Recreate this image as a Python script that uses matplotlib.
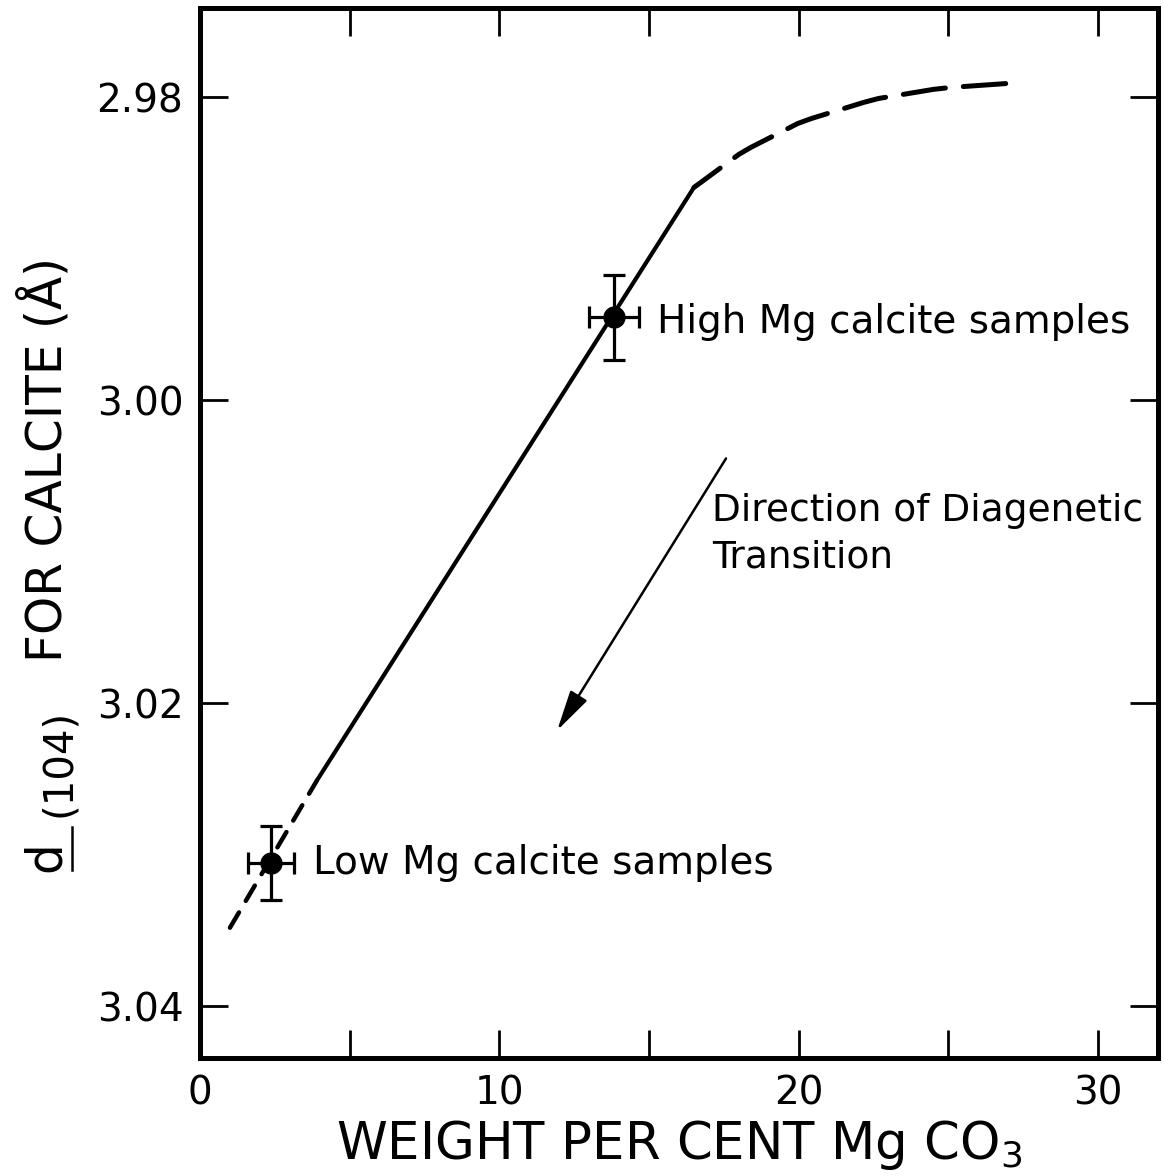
import numpy as np
import matplotlib
matplotlib.use("Agg")
from matplotlib import pyplot as plt
from matplotlib.lines import Line2D

plt.rcParams['font.family'] = ['DejaVu Sans']
plt.rcParams['mathtext.fontset'] = 'custom'
plt.rcParams['mathtext.rm'] = 'DejaVu Sans'

W, H = 1164, 1176

# d(104) spacing vs MgCO3 content
line_lo_x = [1.0, 3.9]
line_lo_y = [3.0348, 3.0251]
line_mid_x = [3.9, 16.5]
line_mid_y = [3.0251, 2.98594]
line_hi_x = [16.5, 16.73, 18.0, 18.4, 19.97, 20.43, 22.17, 22.67, 24.5, 25.1, 26.97]
line_hi_y = [2.98594, 2.98561, 2.98376, 2.9833, 2.98172, 2.98139, 2.98033, 2.98007,
             2.97947, 2.97934, 2.97908]

sample_names = ['Low Mg calcite samples', 'High Mg calcite samples']
sample_x = [2.37, 13.83]
sample_y = [3.03056, 2.99452]
sample_xerr = [0.78, 0.83]
sample_yerr = [0.00244, 0.0028]

arrow_from = (17.57, 3.00383)
arrow_to = (11.93, 3.02178)

x_ticks = [0, 5, 10, 15, 20, 25, 30]
x_ticklabels = ['0', '', '10', '', '20', '', '30']
y_ticks = [2.98, 3.00, 3.02, 3.04]
y_ticklabels = ['2.98', '3.00', '3.02', '3.04']


def fx(px):
    return px / W


def fy(py):
    return (H - py) / H


fig = plt.figure(figsize=(W / 100, H / 100), dpi=100)
ax = fig.add_axes([fx(200), fy(1058), fx(1158) - fx(200), fy(8) - fy(1058)])

ax.plot(line_lo_x, line_lo_y, color='black', lw=3.2, ls=(0, (4.0, 3.0)), dash_capstyle='round')
ax.plot(line_mid_x, line_mid_y, color='black', lw=3.0, solid_capstyle='round')
ax.plot(line_hi_x, line_hi_y, color='black', lw=3.6, ls=(2.0, (8.5, 3.6)), dash_capstyle='round',
        solid_joinstyle='round')

ax.errorbar(sample_x, sample_y, xerr=sample_xerr, yerr=sample_yerr, fmt='o', color='black',
            ms=15, elinewidth=2.3, capsize=8, capthick=2.3, zorder=5)

ax.text(sample_x[0] + 1.4, sample_y[0], sample_names[0], fontsize=28, va='center', ha='left')
ax.text(sample_x[1] + 1.45, sample_y[1] + 0.0003, sample_names[1], fontsize=28, va='center', ha='left')
ax.text(17.1, 3.00733, 'Direction of Diagenetic', fontsize=27, va='center', ha='left')
ax.text(17.1, 3.01036, 'Transition', fontsize=27, va='center', ha='left')

ax.annotate('', xy=arrow_to, xytext=arrow_from,
            arrowprops=dict(arrowstyle='-|>,head_length=2.5,head_width=0.6', color='black', lw=1.8,
                            shrinkA=0, shrinkB=0))

ax.set_xlim(0, 32)
ax.set_ylim(3.0434, 2.9741)
ax.set_xticks(x_ticks)
ax.set_xticklabels(x_ticklabels)
ax.set_yticks(y_ticks)
ax.set_yticklabels(y_ticklabels)
ax.tick_params(direction='in', length=20, width=2.0, top=True, right=True, labelsize=28, pad=12)

for s in ax.spines.values():
    s.set_linewidth(3.6)

ax.set_xlabel('WEIGHT PER CENT Mg CO$_3$', fontsize=37, labelpad=4)

# y label assembled from pieces: underlined d, smaller (104), rest of the title
fig.text(fx(60), fy(872), 'd', fontsize=35, rotation=90, rotation_mode='anchor',
         ha='left', va='baseline')
fig.add_artist(Line2D([fx(72), fx(72)], [fy(870), fy(827)], color='black', lw=1.8,
                      transform=fig.transFigure))
fig.text(fx(70), fy(817), '(104)', fontsize=29, rotation=90, rotation_mode='anchor',
         ha='left', va='baseline')
fig.text(fx(62), fy(662), 'FOR CALCITE (Å)', fontsize=35, rotation=90, rotation_mode='anchor',
         ha='left', va='baseline')

fig.savefig('out.png', dpi=100, facecolor='white')
